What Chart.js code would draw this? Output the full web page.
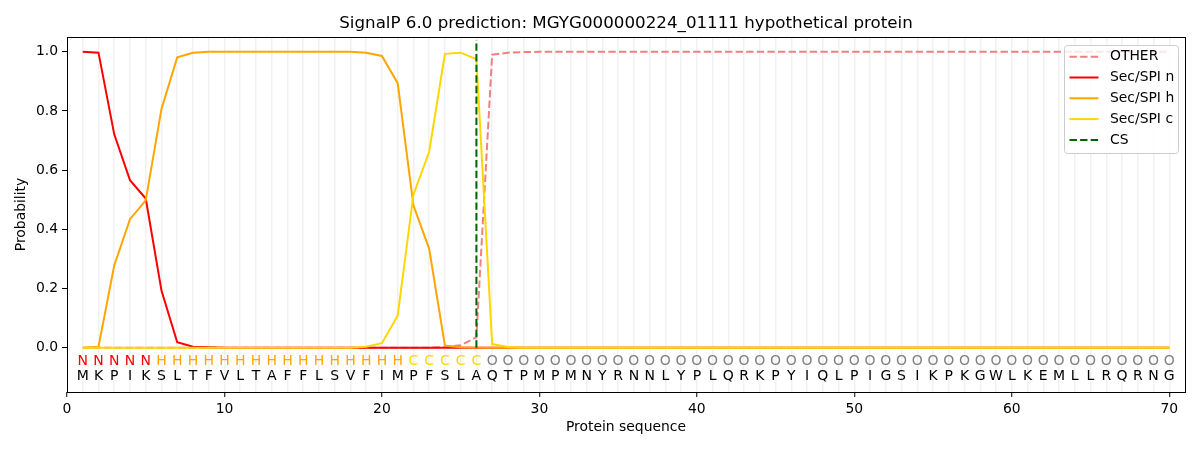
<!DOCTYPE html>
<html>
<head>
<meta charset="utf-8">
<script src="https://cdn.jsdelivr.net/npm/chart.js@4/dist/chart.umd.min.js"></script>
<style>
  html, body { margin: 0; padding: 0; background: #fff; }
  canvas { display: block; }
</style>
</head>
<body>
<canvas id="myChart" width="1200" height="450"></canvas>
<script>
'use strict';

// --- data ---
var titleText = 'SignalP 6.0 prediction: MGYG000000224_01111 hypothetical protein';
var residues = 'MKPIKSLTFVLTAFFLSVFIMPFSLAQTPMPMNYRNNLYPLQRKPYIQLPIGSIKPKGWLKEMLLRQRNG'.split('');
var regionLabels = 'NNNNNHHHHHHHHHHHHHHHHCCCCCOOOOOOOOOOOOOOOOOOOOOOOOOOOOOOOOOOOOOOOOOOOO'.split('');
var csPosition = 26;
var xTicks = [0, 10, 20, 30, 40, 50, 60, 70];
var yTicks = [0, 0.2, 0.4, 0.6, 0.8, 1.0];

var otherProb = [
  0, 0, 0, 0, 0, 0, 0, 0, 0, 0,
  0, 0, 0, 0, 0, 0, 0, 0, 0, 0,
  0, 0, 0, 0.002, 0.008, 0.035, 0.99, 0.997, 0.999, 1,
  1, 1, 1, 1, 1, 1, 1, 1, 1, 1,
  1, 1, 1, 1, 1, 1, 1, 1, 1, 1,
  1, 1, 1, 1, 1, 1, 1, 1, 1, 1,
  1, 1, 1, 1, 1, 1, 1, 1, 1, 1
];
var nProb = [
  1, 0.997, 0.721, 0.566, 0.504, 0.193, 0.018, 0.003, 0.001, 0,
  0, 0, 0, 0, 0, 0, 0, 0, 0, 0,
  0, 0, 0, 0, 0, 0, 0, 0, 0, 0,
  0, 0, 0, 0, 0, 0, 0, 0, 0, 0,
  0, 0, 0, 0, 0, 0, 0, 0, 0, 0,
  0, 0, 0, 0, 0, 0, 0, 0, 0, 0,
  0, 0, 0, 0, 0, 0, 0, 0, 0, 0
];
var hProb = [
  0, 0.003, 0.278, 0.434, 0.498, 0.807, 0.981, 0.997, 1, 1,
  1, 1, 1, 1, 1, 1, 1, 1, 0.997, 0.986,
  0.894, 0.481, 0.334, 0.007, 0.001, 0, 0, 0, 0, 0,
  0, 0, 0, 0, 0, 0, 0, 0, 0, 0,
  0, 0, 0, 0, 0, 0, 0, 0, 0, 0,
  0, 0, 0, 0, 0, 0, 0, 0, 0, 0,
  0, 0, 0, 0, 0, 0, 0, 0, 0, 0
];
var cProb = [
  0, 0, 0, 0, 0, 0, 0, 0, 0, 0,
  0, 0, 0, 0, 0, 0, 0, 0, 0.003, 0.015,
  0.108, 0.517, 0.662, 0.993, 0.997, 0.975, 0.012, 0.002, 0, 0,
  0, 0, 0, 0, 0, 0, 0, 0, 0, 0,
  0, 0, 0, 0, 0, 0, 0, 0, 0, 0,
  0, 0, 0, 0, 0, 0, 0, 0, 0, 0,
  0, 0, 0, 0, 0, 0, 0, 0, 0, 0
];

var FONT = "'DejaVu Sans', sans-serif";
var regionColors = { N: 'red', H: 'orange', C: 'gold', O: 'grey' };
var positions = residues.map(function (r, i) { return i + 1; });

function toPoints(values) {
  return values.map(function (v, i) { return { x: positions[i], y: v }; });
}

var series = [
  { label: 'OTHER', data: toPoints(otherProb), color: '#f08080', dash: [7.4, 3.2], order: 4 },
  { label: 'Sec/SPI n', data: toPoints(nProb), color: 'red', dash: [], order: 3 },
  { label: 'Sec/SPI h', data: toPoints(hProb), color: 'orange', dash: [], order: 2 },
  { label: 'Sec/SPI c', data: toPoints(cProb), color: 'gold', dash: [], order: 1 },
  { label: 'CS', data: [{ x: csPosition, y: 0 }, { x: csPosition, y: 1.04 }], color: 'darkgreen', dash: [7.4, 3.2], order: 0 }
];

var datasets = series.map(function (s) {
  return {
    label: s.label,
    data: s.data,
    borderColor: s.color,
    backgroundColor: s.color,
    borderDash: s.dash,
    borderWidth: 2,
    pointRadius: 0,
    tension: 0,
    fill: false,
    order: s.order
  };
});

// extra drawing: residue letters, frame, title, legend
var decorations = {
  id: 'decorations',
  afterDatasetsDraw: function (chart) {
    var c = chart.ctx, a = chart.chartArea;
    var xs = chart.scales.x, ys = chart.scales.y;
    c.save();
    c.font = '14px ' + FONT;
    c.textAlign = 'center';
    c.textBaseline = 'middle';
    var yLab = ys.getPixelForValue(-0.045);
    var ySeq = ys.getPixelForValue(-0.098);
    residues.forEach(function (r, i) {
      var px = xs.getPixelForValue(positions[i]);
      c.fillStyle = regionColors[regionLabels[i]];
      c.fillText(regionLabels[i], px, yLab);
      c.fillStyle = 'black';
      c.fillText(r, px, ySeq);
    });

    // frame
    c.strokeStyle = 'black';
    c.lineWidth = 1;
    c.strokeRect(Math.round(a.left) + 0.5, Math.round(a.top) + 0.5,
      Math.round(a.right - a.left), Math.round(a.bottom - a.top));

    // title
    c.font = '16.7px ' + FONT;
    c.fillStyle = 'black';
    c.fillText(titleText, (a.left + a.right) / 2, 23.5);
    c.restore();
  },
  afterDraw: function (chart) {
    var c = chart.ctx;
    c.save();
    var bx = 1064.5, by = 45.5, bw = 114, bh = 108, r = 3;
    c.beginPath();
    c.moveTo(bx + r, by);
    c.lineTo(bx + bw - r, by);
    c.quadraticCurveTo(bx + bw, by, bx + bw, by + r);
    c.lineTo(bx + bw, by + bh - r);
    c.quadraticCurveTo(bx + bw, by + bh, bx + bw - r, by + bh);
    c.lineTo(bx + r, by + bh);
    c.quadraticCurveTo(bx, by + bh, bx, by + bh - r);
    c.lineTo(bx, by + r);
    c.quadraticCurveTo(bx, by, bx + r, by);
    c.closePath();
    c.fillStyle = 'rgba(255,255,255,0.8)';
    c.fill();
    c.strokeStyle = '#cccccc';
    c.lineWidth = 1;
    c.stroke();

    c.font = '13.9px ' + FONT;
    c.textAlign = 'left';
    c.textBaseline = 'middle';
    series.forEach(function (s, i) {
      var y = 56.7 + i * 20.8;
      c.beginPath();
      c.setLineDash(s.dash);
      c.strokeStyle = s.color;
      c.lineWidth = 2;
      c.moveTo(1069.5, y);
      c.lineTo(1098.5, y);
      c.stroke();
      c.setLineDash([]);
      c.fillStyle = 'black';
      c.fillText(s.label, 1110, y);
    });
    c.restore();
  }
};

var ctx = document.getElementById('myChart');
var myChart = new Chart(ctx, {
  type: 'line',
  data: { datasets: datasets },
  options: {
    responsive: false,
    animation: false,
    layout: { padding: { top: 37, right: 15, left: 0, bottom: 0 } },
    plugins: {
      legend: { display: false },
      title: { display: false },
      tooltip: { enabled: false }
    },
    scales: {
      x: {
        type: 'linear',
        min: 0,
        max: 71,
        afterFit: function (s) { s.height = 58; },
        afterBuildTicks: function (s) {
          s.ticks = [0].concat(positions).map(function (v) { return { value: v }; });
        },
        border: { display: false },
        grid: {
          color: function (g) { return g.tick && g.tick.value >= 1 ? 'rgba(0,0,0,0.055)' : 'rgba(0,0,0,0)'; },
          lineWidth: 1.5,
          tickLength: 5,
          tickWidth: 1,
          tickColor: function (g) { return g.tick && xTicks.indexOf(g.tick.value) >= 0 ? 'black' : 'rgba(0,0,0,0)'; }
        },
        ticks: {
          autoSkip: false,
          maxRotation: 0,
          padding: 4,
          color: 'black',
          font: { family: FONT, size: 13.9 },
          callback: function (v) { return xTicks.indexOf(v) >= 0 ? String(v) : ''; }
        },
        title: {
          display: true,
          text: 'Protein sequence',
          color: 'black',
          font: { family: FONT, size: 13.9 },
          padding: { top: 0, bottom: 14 }
        }
      },
      y: {
        type: 'linear',
        min: -0.15,
        max: 1.05,
        afterFit: function (s) { s.width = 67; },
        afterBuildTicks: function (s) {
          s.ticks = yTicks.map(function (v) { return { value: v }; });
        },
        border: { display: false },
        grid: {
          drawOnChartArea: false,
          color: 'black',
          tickLength: 5,
          tickWidth: 1
        },
        ticks: {
          padding: 4,
          color: 'black',
          font: { family: FONT, size: 13.9 },
          callback: function (v) { return v.toFixed(1); }
        },
        title: {
          display: true,
          text: 'Probability',
          color: 'black',
          font: { family: FONT, size: 13.9 },
          padding: { top: 13, bottom: 0 }
        }
      }
    }
  },
  plugins: [decorations]
});
</script>
</body>
</html>
